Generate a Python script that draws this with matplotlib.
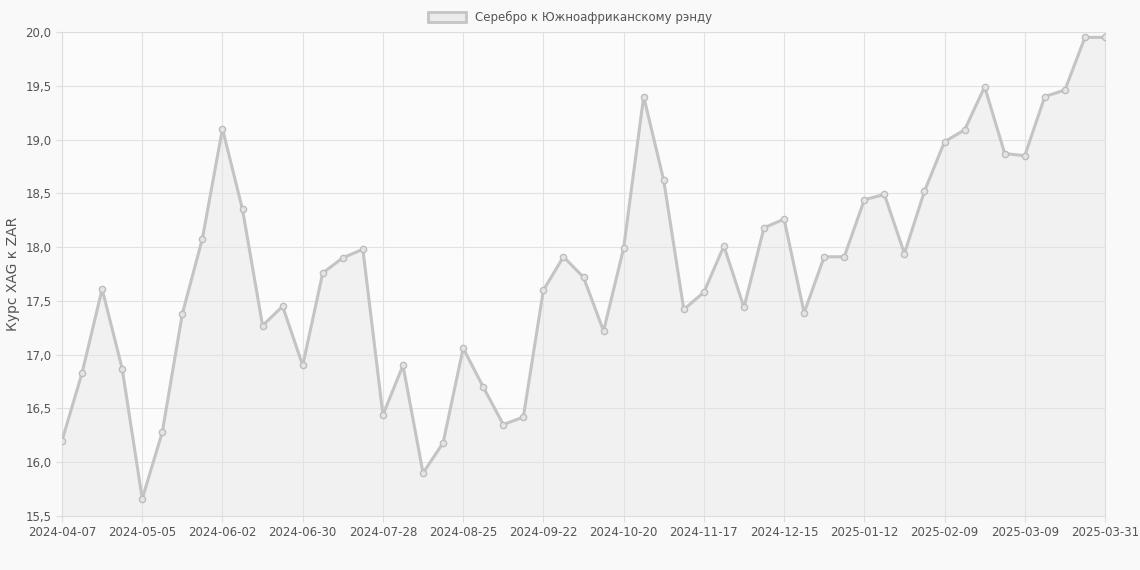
import matplotlib
matplotlib.use("Agg")
import matplotlib.pyplot as plt
import numpy as np
import pandas as pd

dates = list(pd.date_range("2024-04-07", periods=52, freq="7D").strftime("%Y-%m-%d")) + ["2025-03-31"]
values = [16.2, 16.83, 17.61, 16.87, 15.66, 16.28, 17.38, 18.08, 19.1, 18.35,
          17.27, 17.45, 16.9, 17.76, 17.9, 17.98, 16.44, 16.9, 15.9, 16.18,
          17.06, 16.7, 16.35, 16.42, 17.6, 17.91, 17.72, 17.22, 17.99, 19.4,
          18.62, 17.42, 17.58, 18.01, 17.44, 18.18, 18.26, 17.39, 17.91, 17.91,
          18.44, 18.49, 17.94, 18.52, 18.98, 19.09, 19.49, 18.87, 18.85, 19.4,
          19.46, 19.95, 19.95]
label = "Серебро к Южноафриканскому рэнду"

fig = plt.figure(figsize=(11.4, 5.7), dpi=100, facecolor="#f9f9f9")
ax = fig.add_axes([62/1140, 1-516/570, (1105-62)/1140, (516-32)/570])
ax.set_facecolor("#fbfbfb")
x = np.arange(len(values))
ax.fill_between(x, values, 15.5, color="#ebebeb", alpha=0.6, zorder=1)
ax.plot(x, values, color="#c4c4c4", lw=2.2, marker="o", ms=4.5, mfc="#e4e4e4", mec="#bdbdbd", mew=1, zorder=3, label=label)
ax.set_xlim(0, len(values)-1)
ax.set_ylim(15.5, 20.0)
ticks = list(range(0, 49, 4)) + [52]
ax.set_xticks(ticks)
ax.set_xticklabels([dates[i] for i in ticks], fontsize=8.5, color="#555")
yt = np.arange(15.5, 20.01, 0.5)
ax.set_yticks(yt)
ax.set_yticklabels([f"{v:.1f}".replace(".", ",") for v in yt], fontsize=8.5, color="#555")
ax.grid(True, which="major", color="#e2e2e2", lw=0.8)
ax.tick_params(which="major", length=4, color="#ddd")
for s in ax.spines.values():
    s.set_color("#dddddd")
ax.set_ylabel("Курс XAG к ZAR", fontsize=10, color="#555")
leg = fig.legend(handles=[plt.Rectangle((0, 0), 1, 1, fc="#ebebeb", ec="#c4c4c4", lw=2)], labels=[label],
                 loc="upper center", bbox_to_anchor=(0.5, 1.0), frameon=False, fontsize=8.5,
                 handlelength=3.2, handleheight=0.9)
for t in leg.get_texts():
    t.set_color("#555")
fig.savefig("out.png", dpi=100, facecolor=fig.get_facecolor())
